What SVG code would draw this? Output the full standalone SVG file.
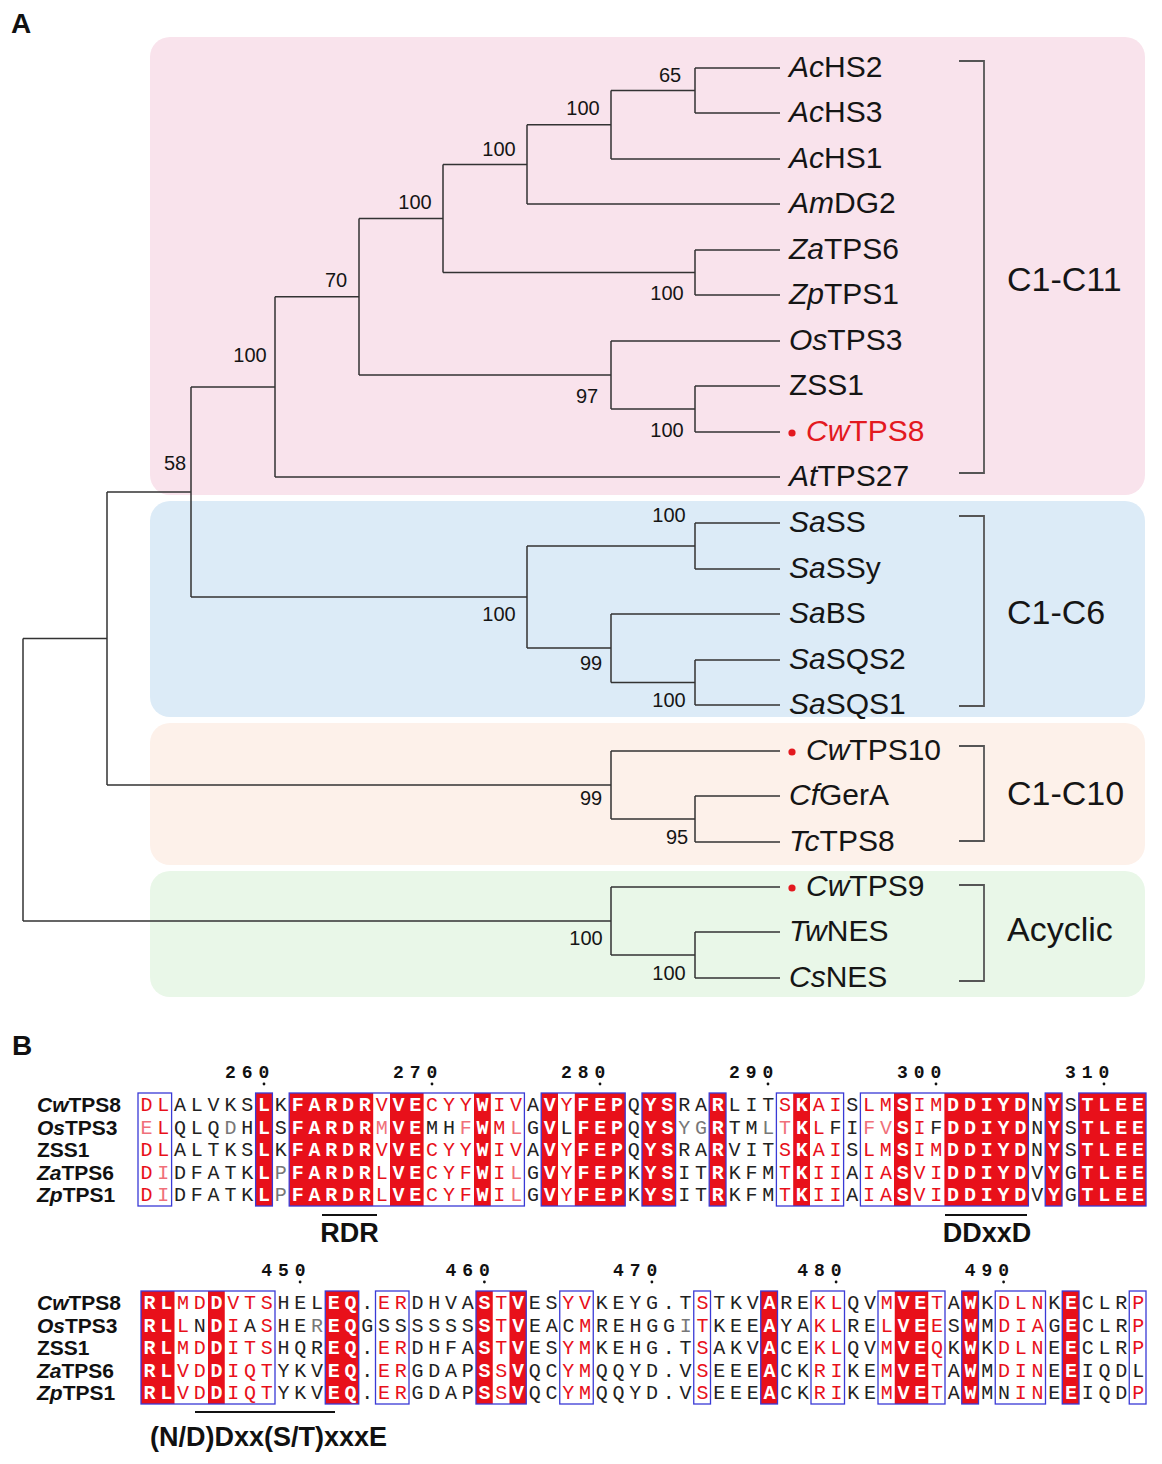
<svg xmlns="http://www.w3.org/2000/svg" width="1162" height="1464" viewBox="0 0 1162 1464">
<style>
text{font-family:"Liberation Sans",Arial,sans-serif}
.leaf{font-size:30px;fill:#151515}
.red{fill:#e3191f}
.bs{font-size:20px;fill:#151515;text-anchor:middle}
.clade{font-size:34px;fill:#151515}
.br{stroke:#333;stroke-width:1.5;fill:none}
.brk{stroke:#555;stroke-width:1.8;fill:none}
.seq text{font-family:"Liberation Mono","Courier New",monospace;font-size:20px}
.s1 text{letter-spacing:4.8px}
.s2 text{letter-spacing:4.75px}
.r{fill:#e8101a}
.p{fill:#f0707a}
.k{fill:#222}
.g{fill:#777}
.w{fill:#fff;font-weight:bold}
.fl{fill:#e8101a}
.box{fill:none;stroke:#3a3ad6;stroke-width:1.3}
.name{font-size:21px;font-weight:bold;fill:#111}
text.num{font-family:"Liberation Mono","Courier New",monospace;font-size:18px;font-weight:bold;text-anchor:middle;fill:#111}
.motif{font-size:27px;font-weight:bold;fill:#111}
.panel{font-size:28px;font-weight:bold;fill:#111}
</style>

<text class="panel" x="11" y="33">A</text>

<g id="clade-backgrounds">
<rect x="150" y="37" width="995" height="458" rx="20" fill="#f9e3ec"/>
<rect x="150" y="501" width="995" height="216" rx="20" fill="#dcebf7"/>
<rect x="150" y="723" width="995" height="142" rx="20" fill="#fdf1ea"/>
<rect x="150" y="871" width="995" height="126" rx="20" fill="#e9f7e8"/>
</g>

<g id="connectors" class="br">
<path d="M695,68H780M695,113H780M695,68V113M611,90.5H695"/>
<path d="M611,159H780M611,90.5V159M527,124.75H611"/>
<path d="M527,204H780M527,124.75V204M443,164.4H527"/>
<path d="M695,250H780M695,295H780M695,250V295M443,272.5H695"/>
<path d="M443,164.4V272.5M359,218.4H443"/>
<path d="M611,341H780M695,386H780M695,432H780M695,386V432M611,409H695"/>
<path d="M611,341V409M359,375H611"/>
<path d="M359,218.4V375M275,296.7H359"/>
<path d="M275,477H780M275,296.7V477M191,386.9H275"/>
<path d="M695,523H780M695,569H780M695,523V569M527,546H695"/>
<path d="M611,614H780M695,660H780M695,705H780M695,660V705M611,682.5H695"/>
<path d="M611,614V682.5M527,648H611"/>
<path d="M527,546V648M191,597H527"/>
<path d="M191,386.9V597M107,492H191"/>
<path d="M611,751H780M695,796H780M695,842H780M695,796V842M611,819H695"/>
<path d="M611,751V819M107,785H611"/>
<path d="M107,492V785M23,638.5H107"/>
<path d="M611,887H780M695,932H780M695,978H780M695,932V978M611,955H695"/>
<path d="M611,887V955M23,921H611"/>
<path d="M23,638.5V921"/>
</g>

<g id="bootstrap-values">
<text class="bs" x="670" y="82">65</text>
<text class="bs" x="583" y="115">100</text>
<text class="bs" x="499" y="156">100</text>
<text class="bs" x="415" y="209">100</text>
<text class="bs" x="667" y="300">100</text>
<text class="bs" x="336" y="287">70</text>
<text class="bs" x="250" y="362">100</text>
<text class="bs" x="587" y="403">97</text>
<text class="bs" x="667" y="437">100</text>
<text class="bs" x="175" y="470">58</text>
<text class="bs" x="669" y="522">100</text>
<text class="bs" x="499" y="621">100</text>
<text class="bs" x="591" y="670">99</text>
<text class="bs" x="669" y="707">100</text>
<text class="bs" x="591" y="805">99</text>
<text class="bs" x="677" y="844">95</text>
<text class="bs" x="586" y="945">100</text>
<text class="bs" x="669" y="980">100</text>
</g>

<g id="leaf-AcHS2"><text class="leaf" x="789" y="77"><tspan font-style="italic">Ac</tspan>HS2</text></g>
<g id="leaf-AcHS3"><text class="leaf" x="789" y="122"><tspan font-style="italic">Ac</tspan>HS3</text></g>
<g id="leaf-AcHS1"><text class="leaf" x="789" y="168"><tspan font-style="italic">Ac</tspan>HS1</text></g>
<g id="leaf-AmDG2"><text class="leaf" x="789" y="213"><tspan font-style="italic">Am</tspan>DG2</text></g>
<g id="leaf-ZaTPS6"><text class="leaf" x="789" y="259"><tspan font-style="italic">Za</tspan>TPS6</text></g>
<g id="leaf-ZpTPS1"><text class="leaf" x="789" y="304"><tspan font-style="italic">Zp</tspan>TPS1</text></g>
<g id="leaf-OsTPS3"><text class="leaf" x="789" y="350"><tspan font-style="italic">Os</tspan>TPS3</text></g>
<g id="leaf-ZSS1"><text class="leaf" x="789" y="395">ZSS1</text></g>
<g id="leaf-CwTPS8"><circle cx="792" cy="433" r="3.6" fill="#e3191f"/><text class="leaf red" x="806" y="441"><tspan font-style="italic">Cw</tspan>TPS8</text></g>
<g id="leaf-AtTPS27"><text class="leaf" x="789" y="486"><tspan font-style="italic">At</tspan>TPS27</text></g>
<g id="leaf-SaSS"><text class="leaf" x="789" y="532"><tspan font-style="italic">Sa</tspan>SS</text></g>
<g id="leaf-SaSSy"><text class="leaf" x="789" y="578"><tspan font-style="italic">Sa</tspan>SSy</text></g>
<g id="leaf-SaBS"><text class="leaf" x="789" y="623"><tspan font-style="italic">Sa</tspan>BS</text></g>
<g id="leaf-SaSQS2"><text class="leaf" x="789" y="669"><tspan font-style="italic">Sa</tspan>SQS2</text></g>
<g id="leaf-SaSQS1"><text class="leaf" x="789" y="714"><tspan font-style="italic">Sa</tspan>SQS1</text></g>
<g id="leaf-CwTPS10"><circle cx="792" cy="752" r="3.6" fill="#e3191f"/><text class="leaf" x="806" y="760"><tspan font-style="italic">Cw</tspan>TPS10</text></g>
<g id="leaf-CfGerA"><text class="leaf" x="789" y="805"><tspan font-style="italic">Cf</tspan>GerA</text></g>
<g id="leaf-TcTPS8"><text class="leaf" x="789" y="851"><tspan font-style="italic">Tc</tspan>TPS8</text></g>
<g id="leaf-CwTPS9"><circle cx="792" cy="888" r="3.6" fill="#e3191f"/><text class="leaf" x="806" y="896"><tspan font-style="italic">Cw</tspan>TPS9</text></g>
<g id="leaf-TwNES"><text class="leaf" x="789" y="941"><tspan font-style="italic">Tw</tspan>NES</text></g>
<g id="leaf-CsNES"><text class="leaf" x="789" y="987"><tspan font-style="italic">Cs</tspan>NES</text></g>

<g id="clade-C1-C11"><path class="brk" d="M959,61H984V473H959"/><text class="clade" x="1007" y="291">C1-C11</text></g>
<g id="clade-C1-C6"><path class="brk" d="M959,516H984V706H959"/><text class="clade" x="1007" y="624">C1-C6</text></g>
<g id="clade-C1-C10"><path class="brk" d="M959,746H984V841H959"/><text class="clade" x="1007" y="805">C1-C10</text></g>
<g id="clade-Acyclic"><path class="brk" d="M959,885H984V981H959"/><text class="clade" x="1007" y="941">Acyclic</text></g>

<text class="panel" x="12" y="1055">B</text>

<g id="alignment-block-1">
<g id="b1-fill" class="fl">
<rect x="255.6" y="1093" width="16.8" height="113"/>
<rect x="289.2" y="1093" width="84" height="113"/>
<rect x="390" y="1093" width="33.6" height="113"/>
<rect x="474" y="1093" width="16.8" height="113"/>
<rect x="541.2" y="1093" width="16.8" height="113"/>
<rect x="574.8" y="1093" width="50.4" height="113"/>
<rect x="642" y="1093" width="33.6" height="113"/>
<rect x="709.2" y="1093" width="16.8" height="113"/>
<rect x="793.2" y="1093" width="16.8" height="113"/>
<rect x="894" y="1093" width="16.8" height="113"/>
<rect x="944.4" y="1093" width="84" height="113"/>
<rect x="1045.2" y="1093" width="16.8" height="113"/>
<rect x="1078.8" y="1093" width="67.2" height="113"/>
</g>
<g id="b1-boxes" class="box">
<rect x="138" y="1093" width="33.6" height="113"/>
<rect x="255.6" y="1093" width="16.8" height="113"/>
<rect x="289.2" y="1093" width="235.2" height="113"/>
<rect x="541.2" y="1093" width="84" height="113"/>
<rect x="642" y="1093" width="33.6" height="113"/>
<rect x="709.2" y="1093" width="16.8" height="113"/>
<rect x="776.4" y="1093" width="67.2" height="113"/>
<rect x="860.4" y="1093" width="168" height="113"/>
<rect x="1045.2" y="1093" width="16.8" height="113"/>
<rect x="1078.8" y="1093" width="67.2" height="113"/>
</g>
<g id="b1-numbers">
<text class="num" x="230.4 247.2 264" y="1078">260</text>
<text class="num" x="398.4 415.2 432" y="1078">270</text>
<text class="num" x="566.4 583.2 600" y="1078">280</text>
<text class="num" x="734.4 751.2 768" y="1078">290</text>
<text class="num" x="902.4 919.2 936" y="1078">300</text>
<text class="num" x="1070.4 1087.2 1104" y="1078">310</text>
<g fill="#111"><circle cx="264" cy="1084" r="1.4"/><circle cx="432" cy="1084" r="1.4"/><circle cx="600" cy="1084" r="1.4"/><circle cx="768" cy="1084" r="1.4"/><circle cx="936" cy="1084" r="1.4"/><circle cx="1104" cy="1084" r="1.4"/></g>
</g>
<g id="b1-names">
<text class="name" x="37" y="1112"><tspan font-style="italic">Cw</tspan>TPS8</text>
<text class="name" x="37" y="1134.6"><tspan font-style="italic">Os</tspan>TPS3</text>
<text class="name" x="37" y="1157.2">ZSS1</text>
<text class="name" x="37" y="1179.8"><tspan font-style="italic">Za</tspan>TPS6</text>
<text class="name" x="37" y="1202.4"><tspan font-style="italic">Zp</tspan>TPS1</text>
</g>
<g id="b1-seqs" class="seq s1">
<text x="140.4" y="1111"><tspan class="r">DL</tspan><tspan class="k">ALVKS</tspan><tspan class="w">L</tspan><tspan class="k">K</tspan><tspan class="w">FARDR</tspan><tspan class="r">V</tspan><tspan class="w">VE</tspan><tspan class="r">CYY</tspan><tspan class="w">W</tspan><tspan class="r">IV</tspan><tspan class="k">A</tspan><tspan class="w">V</tspan><tspan class="r">Y</tspan><tspan class="w">FEP</tspan><tspan class="k">Q</tspan><tspan class="w">YS</tspan><tspan class="k">RA</tspan><tspan class="w">R</tspan><tspan class="k">LIT</tspan><tspan class="r">S</tspan><tspan class="w">K</tspan><tspan class="r">AI</tspan><tspan class="k">S</tspan><tspan class="r">LM</tspan><tspan class="w">S</tspan><tspan class="r">IM</tspan><tspan class="w">DDIYD</tspan><tspan class="k">N</tspan><tspan class="w">Y</tspan><tspan class="k">S</tspan><tspan class="w">TLEE</tspan></text>
<text x="140.4" y="1133.6"><tspan class="p">E</tspan><tspan class="r">L</tspan><tspan class="k">QLQ</tspan><tspan class="g">D</tspan><tspan class="k">H</tspan><tspan class="w">L</tspan><tspan class="k">S</tspan><tspan class="w">FARDR</tspan><tspan class="p">M</tspan><tspan class="w">VE</tspan><tspan class="k">MH</tspan><tspan class="p">F</tspan><tspan class="w">W</tspan><tspan class="r">M</tspan><tspan class="p">L</tspan><tspan class="k">G</tspan><tspan class="w">V</tspan><tspan class="k">L</tspan><tspan class="w">FEP</tspan><tspan class="k">Q</tspan><tspan class="w">YS</tspan><tspan class="g">YG</tspan><tspan class="w">R</tspan><tspan class="k">TM</tspan><tspan class="g">L</tspan><tspan class="p">T</tspan><tspan class="w">K</tspan><tspan class="r">L</tspan><tspan class="k">FI</tspan><tspan class="p">FV</tspan><tspan class="w">S</tspan><tspan class="r">I</tspan><tspan class="k">F</tspan><tspan class="w">DDIYD</tspan><tspan class="k">N</tspan><tspan class="w">Y</tspan><tspan class="k">S</tspan><tspan class="w">TLEE</tspan></text>
<text x="140.4" y="1156.2"><tspan class="r">DL</tspan><tspan class="k">ALTKS</tspan><tspan class="w">L</tspan><tspan class="k">K</tspan><tspan class="w">FARDR</tspan><tspan class="r">V</tspan><tspan class="w">VE</tspan><tspan class="r">CYY</tspan><tspan class="w">W</tspan><tspan class="r">IV</tspan><tspan class="k">A</tspan><tspan class="w">V</tspan><tspan class="r">Y</tspan><tspan class="w">FEP</tspan><tspan class="k">Q</tspan><tspan class="w">YS</tspan><tspan class="k">RA</tspan><tspan class="w">R</tspan><tspan class="k">VIT</tspan><tspan class="r">S</tspan><tspan class="w">K</tspan><tspan class="r">AI</tspan><tspan class="k">S</tspan><tspan class="r">LM</tspan><tspan class="w">S</tspan><tspan class="r">IM</tspan><tspan class="w">DDIYD</tspan><tspan class="k">N</tspan><tspan class="w">Y</tspan><tspan class="k">S</tspan><tspan class="w">TLEE</tspan></text>
<text x="140.4" y="1178.8"><tspan class="r">D</tspan><tspan class="p">I</tspan><tspan class="k">DFATK</tspan><tspan class="w">L</tspan><tspan class="g">P</tspan><tspan class="w">FARDR</tspan><tspan class="r">L</tspan><tspan class="w">VE</tspan><tspan class="r">CYF</tspan><tspan class="w">W</tspan><tspan class="r">I</tspan><tspan class="p">L</tspan><tspan class="k">G</tspan><tspan class="w">V</tspan><tspan class="r">Y</tspan><tspan class="w">FEP</tspan><tspan class="k">K</tspan><tspan class="w">YS</tspan><tspan class="k">IT</tspan><tspan class="w">R</tspan><tspan class="k">KFM</tspan><tspan class="r">T</tspan><tspan class="w">K</tspan><tspan class="r">II</tspan><tspan class="k">A</tspan><tspan class="r">IA</tspan><tspan class="w">S</tspan><tspan class="r">VI</tspan><tspan class="w">DDIYD</tspan><tspan class="k">V</tspan><tspan class="w">Y</tspan><tspan class="k">G</tspan><tspan class="w">TLEE</tspan></text>
<text x="140.4" y="1201.4"><tspan class="r">D</tspan><tspan class="p">I</tspan><tspan class="k">DFATK</tspan><tspan class="w">L</tspan><tspan class="g">P</tspan><tspan class="w">FARDR</tspan><tspan class="r">L</tspan><tspan class="w">VE</tspan><tspan class="r">CYF</tspan><tspan class="w">W</tspan><tspan class="r">I</tspan><tspan class="p">L</tspan><tspan class="k">G</tspan><tspan class="w">V</tspan><tspan class="r">Y</tspan><tspan class="w">FEP</tspan><tspan class="k">K</tspan><tspan class="w">YS</tspan><tspan class="k">IT</tspan><tspan class="w">R</tspan><tspan class="k">KFM</tspan><tspan class="r">T</tspan><tspan class="w">K</tspan><tspan class="r">II</tspan><tspan class="k">A</tspan><tspan class="r">IA</tspan><tspan class="w">S</tspan><tspan class="r">VI</tspan><tspan class="w">DDIYD</tspan><tspan class="k">V</tspan><tspan class="w">Y</tspan><tspan class="k">G</tspan><tspan class="w">TLEE</tspan></text>
</g>
<g id="motif-RDR"><path d="M322,1215H377" stroke="#111" stroke-width="2.2"/><text class="motif" x="349.5" y="1242" text-anchor="middle">RDR</text></g>
<g id="motif-DDxxD"><path d="M945,1215H1027" stroke="#111" stroke-width="2.2"/><text class="motif" x="987" y="1242" text-anchor="middle">DDxxD</text></g>
</g>

<g id="alignment-block-2">
<g id="b2-fill" class="fl">
<rect x="141" y="1291" width="33.5" height="113"/>
<rect x="208" y="1291" width="16.75" height="113"/>
<rect x="325.25" y="1291" width="33.5" height="113"/>
<rect x="476" y="1291" width="16.75" height="113"/>
<rect x="509.5" y="1291" width="16.75" height="113"/>
<rect x="760.75" y="1291" width="16.75" height="113"/>
<rect x="894.75" y="1291" width="33.5" height="113"/>
<rect x="961.75" y="1291" width="16.75" height="113"/>
<rect x="1062.25" y="1291" width="16.75" height="113"/>
</g>
<g id="b2-boxes" class="box">
<rect x="141" y="1291" width="134" height="113"/>
<rect x="325.25" y="1291" width="33.5" height="113"/>
<rect x="375.5" y="1291" width="33.5" height="113"/>
<rect x="476" y="1291" width="50.25" height="113"/>
<rect x="559.75" y="1291" width="33.5" height="113"/>
<rect x="693.75" y="1291" width="16.75" height="113"/>
<rect x="760.75" y="1291" width="16.75" height="113"/>
<rect x="811" y="1291" width="33.5" height="113"/>
<rect x="878" y="1291" width="67" height="113"/>
<rect x="961.75" y="1291" width="16.75" height="113"/>
<rect x="995.25" y="1291" width="50.25" height="113"/>
<rect x="1062.25" y="1291" width="16.75" height="113"/>
<rect x="1129.25" y="1291" width="16.75" height="113"/>
</g>
<g id="b2-numbers">
<text class="num" x="266.6 283.4 300.1" y="1276">450</text>
<text class="num" x="450.9 467.6 484.4" y="1276">460</text>
<text class="num" x="618.4 635.1 651.9" y="1276">470</text>
<text class="num" x="802.6 819.4 836.1" y="1276">480</text>
<text class="num" x="970.1 986.9 1003.6" y="1276">490</text>
<g fill="#111"><circle cx="300.1" cy="1282" r="1.4"/><circle cx="484.4" cy="1282" r="1.4"/><circle cx="651.9" cy="1282" r="1.4"/><circle cx="836.1" cy="1282" r="1.4"/><circle cx="1003.6" cy="1282" r="1.4"/></g>
</g>
<g id="b2-names">
<text class="name" x="37" y="1310"><tspan font-style="italic">Cw</tspan>TPS8</text>
<text class="name" x="37" y="1332.6"><tspan font-style="italic">Os</tspan>TPS3</text>
<text class="name" x="37" y="1355.2">ZSS1</text>
<text class="name" x="37" y="1377.8"><tspan font-style="italic">Za</tspan>TPS6</text>
<text class="name" x="37" y="1400.4"><tspan font-style="italic">Zp</tspan>TPS1</text>
</g>
<g id="b2-seqs" class="seq s2">
<text x="143.4" y="1309"><tspan class="w">RL</tspan><tspan class="r">MD</tspan><tspan class="w">D</tspan><tspan class="r">VTS</tspan><tspan class="k">HEL</tspan><tspan class="w">EQ</tspan><tspan class="k">.</tspan><tspan class="r">ER</tspan><tspan class="k">DHVA</tspan><tspan class="w">S</tspan><tspan class="r">T</tspan><tspan class="w">V</tspan><tspan class="k">ES</tspan><tspan class="r">YV</tspan><tspan class="k">KEYG.T</tspan><tspan class="r">S</tspan><tspan class="k">TKV</tspan><tspan class="w">A</tspan><tspan class="k">RE</tspan><tspan class="r">KL</tspan><tspan class="k">QV</tspan><tspan class="r">M</tspan><tspan class="w">VE</tspan><tspan class="r">T</tspan><tspan class="k">A</tspan><tspan class="w">W</tspan><tspan class="k">K</tspan><tspan class="r">DLN</tspan><tspan class="k">K</tspan><tspan class="w">E</tspan><tspan class="k">CLR</tspan><tspan class="r">P</tspan></text>
<text x="143.4" y="1331.6"><tspan class="w">RL</tspan><tspan class="r">L</tspan><tspan class="k">N</tspan><tspan class="w">D</tspan><tspan class="r">I</tspan><tspan class="k">A</tspan><tspan class="r">S</tspan><tspan class="k">HE</tspan><tspan class="g">R</tspan><tspan class="w">EQ</tspan><tspan class="k">G</tspan><tspan class="k">SS</tspan><tspan class="k">SSSS</tspan><tspan class="w">S</tspan><tspan class="r">T</tspan><tspan class="w">V</tspan><tspan class="k">EA</tspan><tspan class="k">C</tspan><tspan class="r">M</tspan><tspan class="k">REHGG</tspan><tspan class="g">I</tspan><tspan class="r">T</tspan><tspan class="k">KEE</tspan><tspan class="w">A</tspan><tspan class="k">YA</tspan><tspan class="r">KL</tspan><tspan class="k">RE</tspan><tspan class="r">L</tspan><tspan class="w">VE</tspan><tspan class="r">E</tspan><tspan class="k">S</tspan><tspan class="w">W</tspan><tspan class="k">M</tspan><tspan class="r">DIA</tspan><tspan class="k">G</tspan><tspan class="w">E</tspan><tspan class="k">CLR</tspan><tspan class="r">P</tspan></text>
<text x="143.4" y="1354.2"><tspan class="w">RL</tspan><tspan class="r">MD</tspan><tspan class="w">D</tspan><tspan class="r">ITS</tspan><tspan class="k">HQR</tspan><tspan class="w">EQ</tspan><tspan class="k">.</tspan><tspan class="r">ER</tspan><tspan class="k">DHFA</tspan><tspan class="w">S</tspan><tspan class="r">T</tspan><tspan class="w">V</tspan><tspan class="k">ES</tspan><tspan class="r">YM</tspan><tspan class="k">KEHG.T</tspan><tspan class="r">S</tspan><tspan class="k">AKV</tspan><tspan class="w">A</tspan><tspan class="k">CE</tspan><tspan class="r">KL</tspan><tspan class="k">QV</tspan><tspan class="r">M</tspan><tspan class="w">VE</tspan><tspan class="r">Q</tspan><tspan class="k">K</tspan><tspan class="w">W</tspan><tspan class="k">K</tspan><tspan class="r">DLN</tspan><tspan class="k">E</tspan><tspan class="w">E</tspan><tspan class="k">CLR</tspan><tspan class="r">P</tspan></text>
<text x="143.4" y="1376.8"><tspan class="w">RL</tspan><tspan class="r">VD</tspan><tspan class="w">D</tspan><tspan class="r">IQT</tspan><tspan class="k">YKV</tspan><tspan class="w">EQ</tspan><tspan class="k">.</tspan><tspan class="r">ER</tspan><tspan class="k">GDAP</tspan><tspan class="w">S</tspan><tspan class="r">S</tspan><tspan class="w">V</tspan><tspan class="k">QC</tspan><tspan class="r">YM</tspan><tspan class="k">QQYD.V</tspan><tspan class="r">S</tspan><tspan class="k">EEE</tspan><tspan class="w">A</tspan><tspan class="k">CK</tspan><tspan class="r">RI</tspan><tspan class="k">KE</tspan><tspan class="r">M</tspan><tspan class="w">VE</tspan><tspan class="r">T</tspan><tspan class="k">A</tspan><tspan class="w">W</tspan><tspan class="k">M</tspan><tspan class="r">DIN</tspan><tspan class="k">E</tspan><tspan class="w">E</tspan><tspan class="k">IQD</tspan><tspan class="k">L</tspan></text>
<text x="143.4" y="1399.4"><tspan class="w">RL</tspan><tspan class="r">VD</tspan><tspan class="w">D</tspan><tspan class="r">IQT</tspan><tspan class="k">YKV</tspan><tspan class="w">EQ</tspan><tspan class="k">.</tspan><tspan class="r">ER</tspan><tspan class="k">GDAP</tspan><tspan class="w">S</tspan><tspan class="r">S</tspan><tspan class="w">V</tspan><tspan class="k">QC</tspan><tspan class="r">YM</tspan><tspan class="k">QQYD.V</tspan><tspan class="r">S</tspan><tspan class="k">EEE</tspan><tspan class="w">A</tspan><tspan class="k">CK</tspan><tspan class="r">RI</tspan><tspan class="k">KE</tspan><tspan class="r">M</tspan><tspan class="w">VE</tspan><tspan class="r">T</tspan><tspan class="k">A</tspan><tspan class="w">W</tspan><tspan class="k">MN</tspan><tspan class="r">IN</tspan><tspan class="k">E</tspan><tspan class="w">E</tspan><tspan class="k">IQD</tspan><tspan class="r">P</tspan></text>
</g>
<g id="motif-NDxxSTxxxE"><path d="M195,1412H335" stroke="#111" stroke-width="2.2"/><text class="motif" x="150" y="1446">(N/D)Dxx(S/T)xxxE</text></g>
</g>
</svg>
